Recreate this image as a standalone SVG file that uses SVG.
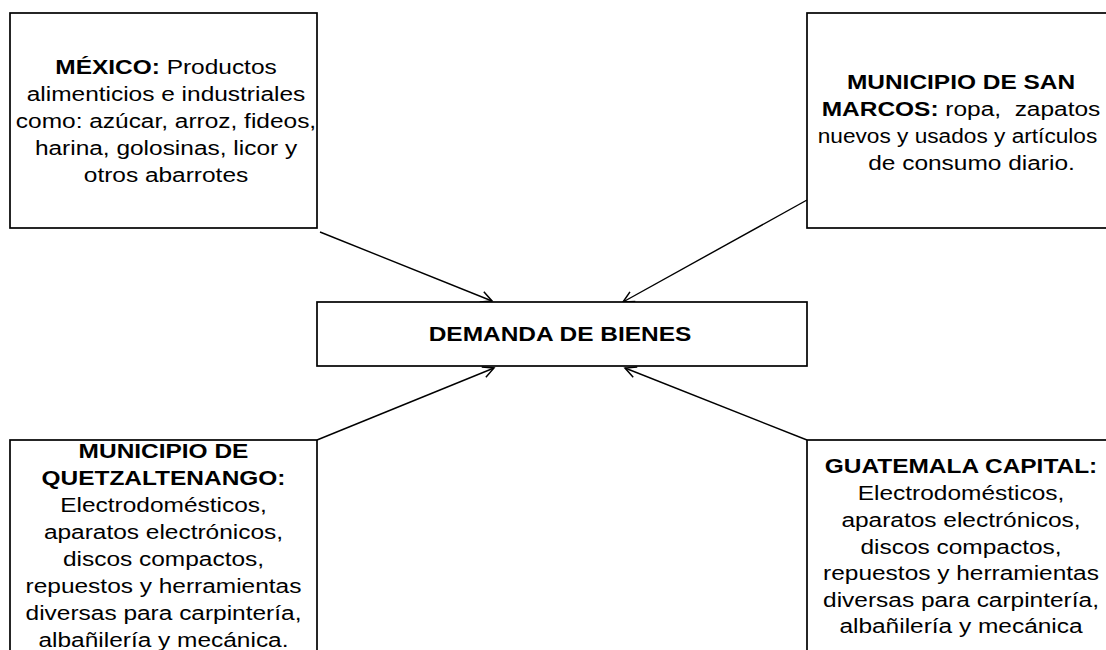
<svg xmlns="http://www.w3.org/2000/svg" width="1106" height="650" viewBox="0 0 1106 650">
<defs>
<style>
.box{fill:#fff;stroke:#000;stroke-width:1.7}
.t{font-family:"Liberation Sans",Arial,sans-serif;font-size:21px;fill:#000;text-anchor:middle}
.b{font-weight:bold}
.c{stroke:#000;stroke-width:1.4;fill:none}
</style>
<marker id="arr" markerUnits="userSpaceOnUse" markerWidth="14" markerHeight="14" refX="12" refY="6" orient="auto" viewBox="0 0 14 12">
<path d="M1,0.5 L12,6 L1,11.5" fill="none" stroke="#000" stroke-width="1.5"/>
</marker>
</defs>
<rect width="1106" height="650" fill="#fff"/>
<g id="connectors">
<line class="c" x1="320" y1="232" x2="492" y2="301" marker-end="url(#arr)"/>
<line class="c" x1="807" y1="200" x2="623" y2="302" marker-end="url(#arr)"/>
<line class="c" x1="317" y1="440" x2="494" y2="368" marker-end="url(#arr)"/>
<line class="c" x1="807" y1="440" x2="625" y2="368" marker-end="url(#arr)"/>
</g>
<g id="mexico">
<rect class="box" x="10" y="13" width="307" height="215"/>
<g transform="translate(166,0) scale(1.165,1)">
<text class="t" x="0" y="74"><tspan class="b">MÉXICO:</tspan> Productos</text>
<text class="t" x="0" y="101">alimenticios e industriales</text>
<text class="t" x="0" y="128">como: azúcar, arroz, fideos,</text>
<text class="t" x="0" y="155">harina, golosinas, licor y</text>
<text class="t" x="0" y="182">otros abarrotes</text>
</g>
</g>
<g id="sanmarcos">
<rect class="box" x="807" y="13" width="310" height="215"/>
<g transform="translate(961,0) scale(1.165,1)">
<text class="t b" x="0" y="89">MUNICIPIO DE SAN</text>
<text class="t" x="0" y="116"><tspan class="b">MARCOS:</tspan> ropa,&#160; zapatos</text>
<text class="t" x="-3" y="143" textLength="240" lengthAdjust="spacingAndGlyphs">nuevos y usados y artículos</text>
<text class="t" x="9" y="170">de consumo diario.</text>
</g>
</g>
<g id="demanda">
<rect class="box" x="317" y="302" width="490" height="64"/>
<g transform="translate(560,0) scale(1.165,1)">
<text class="t b" x="0" y="341">DEMANDA DE BIENES</text>
</g>
</g>
<g id="quetzaltenango">
<rect class="box" x="10" y="440" width="307" height="230"/>
<g transform="translate(163.5,0) scale(1.165,1)">
<text class="t b" x="0" y="458">MUNICIPIO DE</text>
<text class="t b" x="0" y="485">QUETZALTENANGO:</text>
<text class="t" x="0" y="512">Electrodomésticos,</text>
<text class="t" x="0" y="539">aparatos electrónicos,</text>
<text class="t" x="0" y="566">discos compactos,</text>
<text class="t" x="0" y="593">repuestos y herramientas</text>
<text class="t" x="0" y="620">diversas para carpintería,</text>
<text class="t" x="0" y="647">albañilería y mecánica.</text>
</g>
</g>
<g id="guatemala">
<rect class="box" x="807" y="440" width="310" height="230"/>
<g transform="translate(961,0) scale(1.165,1)">
<text class="t b" x="0" y="473">GUATEMALA CAPITAL:</text>
<text class="t" x="0" y="500">Electrodomésticos,</text>
<text class="t" x="0" y="527">aparatos electrónicos,</text>
<text class="t" x="0" y="554">discos compactos,</text>
<text class="t" x="0" y="580">repuestos y herramientas</text>
<text class="t" x="0" y="607">diversas para carpintería,</text>
<text class="t" x="0" y="633">albañilería y mecánica</text>
</g>
</g>
</svg>
